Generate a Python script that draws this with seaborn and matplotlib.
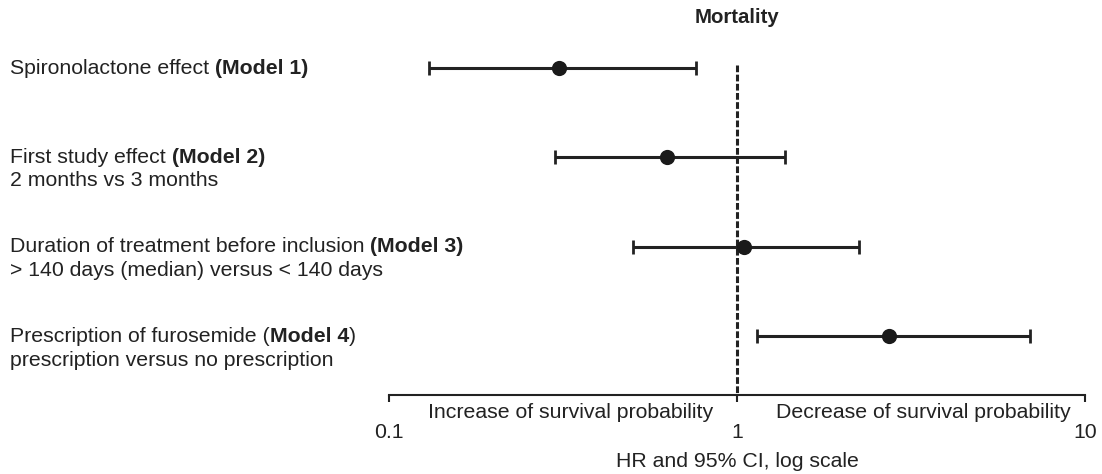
import numpy as np
import pandas as pd
import matplotlib
matplotlib.use("Agg")
import matplotlib.pyplot as plt
import seaborn as sns

# ---- data ----
models = ["Model 1", "Model 2", "Model 3", "Model 4"]
hr = [0.308, 0.628, 1.05, 2.73]
ci_low = [0.130, 0.300, 0.503, 1.14]
ci_high = [0.761, 1.37, 2.24, 6.97]
label_plain = ["Spironolactone effect", "First study effect",
               "Duration of treatment before inclusion", "Prescription of furosemide ("]
label_bold = ["(Model 1)", "(Model 2)", "(Model 3)", "Model 4"]
label_tail = ["", "", "", ")"]
label_second = ["", "2 months vs 3 months",
                "> 140 days (median) versus < 140 days",
                "prescription versus no prescription"]
xticks = [0.1, 1, 10]
xtick_labels = ["0.1", "1", "10"]
region_labels = ["Increase of survival probability", "Decrease of survival probability"]
title = "Mortality"
xlabel = "HR and 95% CI, log scale"

df = pd.DataFrame({"model": models, "hr": hr, "low": ci_low, "high": ci_high})
df["row"] = np.arange(len(df))

sns.set_theme(style="white")
plt.rcParams["font.family"] = ["Liberation Sans", "DejaVu Sans"]
FS = 15.3
TXT = "#222222"

W, H = 1102, 474
fig = plt.figure(figsize=(W / 100, H / 100), dpi=100)
ax = fig.add_axes([389 / W, (H - 395) / H, (1085 - 389) / W, (395 - 40) / H])

ax.set_xscale("log")
ax.set_xlim(0.1, 10)
ax.set_ylim(3.66, -0.313)

# reference line at HR = 1
ax.vlines(1, -0.03, 3.66, colors="#222222", linestyles=(0, (2.2, 0.8)), linewidth=2.2, zorder=1)

# CIs
xerr = np.vstack([df["hr"] - df["low"], df["high"] - df["hr"]])
ax.errorbar(df["hr"], df["row"], xerr=xerr, fmt="none", ecolor="#222222",
            elinewidth=2.2, capsize=5, capthick=2.0, zorder=2)
sns.scatterplot(data=df, x="hr", y="row", ax=ax, color="#1a1a1a", s=120,
                marker="o", edgecolor="#1a1a1a", linewidth=0, zorder=3, legend=False)

# axes styling
for s in ["left", "right", "top"]:
    ax.spines[s].set_visible(False)
ax.spines["bottom"].set_color("#222222")
ax.spines["bottom"].set_linewidth(1.5)
ax.set_yticks([])
ax.set_xticks(xticks)
ax.set_xticklabels(xtick_labels)
ax.xaxis.set_minor_locator(matplotlib.ticker.NullLocator())
ax.tick_params(axis="x", which="major", direction="out", length=5, width=1.5,
               color="#222222", labelsize=FS, labelcolor=TXT, pad=15.5, bottom=True)
ax.set_xlabel(xlabel, fontsize=FS, color=TXT, labelpad=7.2)
ax.set_ylabel("")
ax.set_title(title, fontsize=14.7, fontweight="bold", color=TXT, pad=12.5)

# region labels under the axis
trans = ax.get_xaxis_transform()
ax.text(0.332, -0.05, region_labels[0], transform=trans, ha="center", va="center",
        fontsize=FS, color=TXT)
ax.text(3.43, -0.05, region_labels[1], transform=trans, ha="center", va="center",
        fontsize=FS, color=TXT)

# left labels
row_px = [68, 157, 246, 336]
for i in range(len(models)):
    y = 1 - row_px[i] / H
    t1 = fig.text(10 / W, y, label_plain[i], fontsize=FS, color=TXT, va="center", ha="left")
    off = 0 if label_plain[i].endswith("(") else 4.3
    t2 = ax.annotate(label_bold[i], xy=(1, 0), xycoords=t1, xytext=(off, 0),
                     textcoords="offset points", va="bottom", ha="left",
                     fontsize=FS, fontweight="bold", color=TXT, annotation_clip=False)
    if label_tail[i]:
        ax.annotate(label_tail[i], xy=(1, 0), xycoords=t2, va="bottom", ha="left",
                    fontsize=FS, color=TXT, annotation_clip=False)
    if label_second[i]:
        fig.text(10 / W, 1 - (row_px[i] + 24) / H, label_second[i], fontsize=FS,
                 color=TXT, va="center", ha="left")

fig.savefig("out.png", dpi=100)
